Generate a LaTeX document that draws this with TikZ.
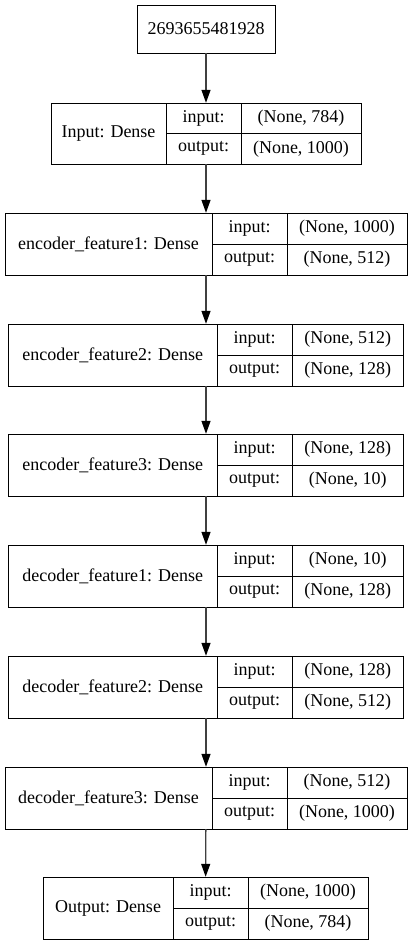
\documentclass[tikz,border=0pt]{standalone}
\usepackage{fontspec}
\setmainfont{Liberation Serif}
\usetikzlibrary{arrows.meta}

\begin{document}
\begin{tikzpicture}[
  x=1pt, y=-1pt,
  cell/.style={draw, line width=0.9pt, inner sep=0pt,
    font=\fontsize{18}{20}\selectfont},
  record/.style={rectangle, inner sep=0pt},
  flow/.style={draw=black!75, line width=1.3pt,
    -{Triangle[length=13pt, width=9pt, color=black]}}
]
  \useasboundingbox (0,0) rectangle (412,945);

  % Model id.
  \node[cell, minimum width=138pt, minimum height=48pt] (id) at (206,29) {2693655481928};

  % Input layer.
  \node[record, minimum width=310pt, minimum height=61pt] (L1) at (206,133.5) {};
  \node[cell, minimum width=115pt, minimum height=61pt] (n1) at (108.5,133.5) {Input: Dense};
  \node[cell, minimum width=75pt, minimum height=30.5pt] (ik1) at (203.5,118.25) {input:};
  \node[cell, minimum width=75pt, minimum height=30.5pt] (ok1) at (203.5,148.75) {output:};
  \node[cell, minimum width=120pt, minimum height=30.5pt] (iv1) at (301,118.25) {(None, 784)};
  \node[cell, minimum width=120pt, minimum height=30.5pt] (ov1) at (301,148.75) {(None, 1000)};

  % Encoder.
  \node[record, minimum width=402pt, minimum height=62pt] (L2) at (206,244) {};
  \node[cell, minimum width=207pt, minimum height=62pt] (n2) at (108.5,244) {encoder\_feature1: Dense};
  \node[cell, minimum width=75pt, minimum height=31pt] (ik2) at (249.5,228.5) {input:};
  \node[cell, minimum width=75pt, minimum height=31pt] (ok2) at (249.5,259.5) {output:};
  \node[cell, minimum width=120pt, minimum height=31pt] (iv2) at (347,228.5) {(None, 1000)};
  \node[cell, minimum width=120pt, minimum height=31pt] (ov2) at (347,259.5) {(None, 512)};

  \node[record, minimum width=395pt, minimum height=62pt] (L3) at (206,355) {};
  \node[cell, minimum width=208.5pt, minimum height=62pt] (n3) at (112.75,355) {encoder\_feature2: Dense};
  \node[cell, minimum width=75pt, minimum height=31pt] (ik3) at (254.5,339.5) {input:};
  \node[cell, minimum width=75pt, minimum height=31pt] (ok3) at (254.5,370.5) {output:};
  \node[cell, minimum width=111.5pt, minimum height=31pt] (iv3) at (347.75,339.5) {(None, 512)};
  \node[cell, minimum width=111.5pt, minimum height=31pt] (ov3) at (347.75,370.5) {(None, 128)};

  \node[record, minimum width=395pt, minimum height=62pt] (L4) at (206,465) {};
  \node[cell, minimum width=208.5pt, minimum height=62pt] (n4) at (112.75,465) {encoder\_feature3: Dense};
  \node[cell, minimum width=75pt, minimum height=31pt] (ik4) at (254.5,449.5) {input:};
  \node[cell, minimum width=75pt, minimum height=31pt] (ok4) at (254.5,480.5) {output:};
  \node[cell, minimum width=111.5pt, minimum height=31pt] (iv4) at (347.75,449.5) {(None, 128)};
  \node[cell, minimum width=111.5pt, minimum height=31pt] (ov4) at (347.75,480.5) {(None, 10)};

  % Decoder.
  \node[record, minimum width=395pt, minimum height=62pt] (L5) at (206,576) {};
  \node[cell, minimum width=208.5pt, minimum height=62pt] (n5) at (112.75,576) {decoder\_feature1: Dense};
  \node[cell, minimum width=75pt, minimum height=31pt] (ik5) at (254.5,560.5) {input:};
  \node[cell, minimum width=75pt, minimum height=31pt] (ok5) at (254.5,591.5) {output:};
  \node[cell, minimum width=111.5pt, minimum height=31pt] (iv5) at (347.75,560.5) {(None, 10)};
  \node[cell, minimum width=111.5pt, minimum height=31pt] (ov5) at (347.75,591.5) {(None, 128)};

  \node[record, minimum width=395pt, minimum height=62pt] (L6) at (206,687) {};
  \node[cell, minimum width=208.5pt, minimum height=62pt] (n6) at (112.75,687) {decoder\_feature2: Dense};
  \node[cell, minimum width=75pt, minimum height=31pt] (ik6) at (254.5,671.5) {input:};
  \node[cell, minimum width=75pt, minimum height=31pt] (ok6) at (254.5,702.5) {output:};
  \node[cell, minimum width=111.5pt, minimum height=31pt] (iv6) at (347.75,671.5) {(None, 128)};
  \node[cell, minimum width=111.5pt, minimum height=31pt] (ov6) at (347.75,702.5) {(None, 512)};

  \node[record, minimum width=402pt, minimum height=62pt] (L7) at (206,798) {};
  \node[cell, minimum width=207pt, minimum height=62pt] (n7) at (108.5,798) {decoder\_feature3: Dense};
  \node[cell, minimum width=75pt, minimum height=31pt] (ik7) at (249.5,782.5) {input:};
  \node[cell, minimum width=75pt, minimum height=31pt] (ok7) at (249.5,813.5) {output:};
  \node[cell, minimum width=120pt, minimum height=31pt] (iv7) at (347,782.5) {(None, 512)};
  \node[cell, minimum width=120pt, minimum height=31pt] (ov7) at (347,813.5) {(None, 1000)};

  % Output layer.
  \node[record, minimum width=325pt, minimum height=62pt] (L8) at (205.5,908) {};
  \node[cell, minimum width=130pt, minimum height=62pt] (n8) at (108,908) {Output: Dense};
  \node[cell, minimum width=75pt, minimum height=31pt] (ik8) at (210.5,892.5) {input:};
  \node[cell, minimum width=75pt, minimum height=31pt] (ok8) at (210.5,923.5) {output:};
  \node[cell, minimum width=120pt, minimum height=31pt] (iv8) at (308,892.5) {(None, 1000)};
  \node[cell, minimum width=120pt, minimum height=31pt] (ov8) at (308,923.5) {(None, 784)};

  \foreach \a/\b in {id/L1,L1/L2,L2/L3,L3/L4,L4/L5,L5/L6,L6/L7,L7/L8}
    \draw[flow] (\a) -- (\b);
\end{tikzpicture}
\end{document}
